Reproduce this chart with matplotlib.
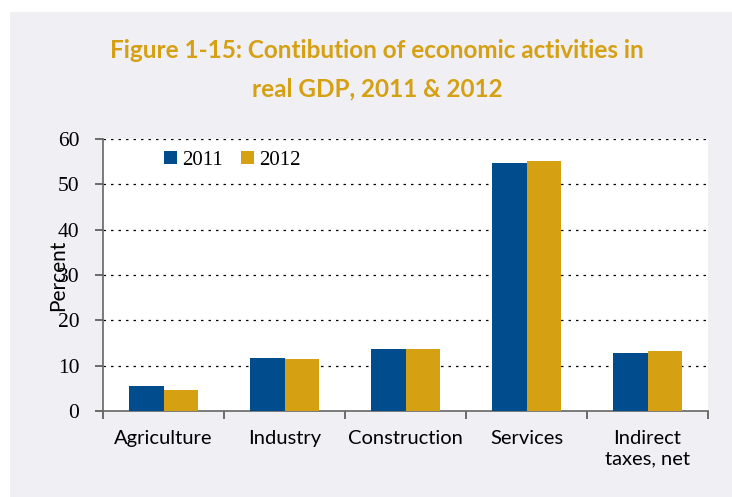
import numpy as np
import matplotlib.pyplot as plt
from matplotlib.patches import Rectangle

sectors = ["Agriculture", "Industry", "Construction", "Services", "Indirect\ntaxes, net"]
share_2011 = [5.6, 11.6, 13.6, 54.7, 12.8]
share_2012 = [4.6, 11.5, 13.7, 55.1, 13.3]
years = ["2011", "2012"]

blue = "#004c8c"
gold = "#d5a012"
panel = "#efeff4"

fig = plt.figure(figsize=(7.32, 4.97), dpi=100)
fig.patch.set_facecolor("white")
fig.patches.append(Rectangle((10 / 732, 0), 1, 1 - 12 / 497, transform=fig.transFigure,
                             facecolor=panel, edgecolor="none", zorder=-10))

fig.text(0.515, 0.898, "Figure 1-15: Contibution of economic activities in",
         ha="center", va="center", fontsize=17.5, fontweight="bold", color=gold, family="Lato")
fig.text(0.515, 0.822, "real GDP, 2011 & 2012",
         ha="center", va="center", fontsize=17.5, fontweight="bold", color=gold, family="Lato")

ax = fig.add_axes([103 / 732, 1 - 411 / 497, 605 / 732, 272 / 497])
ax.set_facecolor("white")

x = np.arange(len(sectors))
w = 0.285
ax.bar(x - w / 2, share_2011, w, color=blue, label=years[0], zorder=3)
ax.bar(x + w / 2, share_2012, w, color=gold, label=years[1], zorder=3)

ax.set_xlim(-0.5, len(sectors) - 0.5)
ax.set_ylim(0, 60)
ax.set_yticks(np.arange(0, 61, 10))
ax.set_yticklabels([str(v) for v in range(0, 61, 10)], family="Liberation Serif", fontsize=15.5)
for v in range(10, 61, 10):
    ax.axhline(v, color="black", lw=0.9, ls=(0, (2, 4)), zorder=1)

ax.set_xticks(x)
ax.set_xticklabels(sectors, family="Lato", fontsize=14.5)
ax.tick_params(axis="x", length=0, pad=14)
ax.set_xticks(np.arange(-0.5, len(sectors)), minor=True)
ax.tick_params(axis="x", which="minor", length=6, color="#555555", width=1.2)
ax.tick_params(axis="y", length=6, color="#555555", width=1.2, pad=11)

for side in ["top", "right"]:
    ax.spines[side].set_visible(False)
for side in ["left", "bottom"]:
    ax.spines[side].set_color("#666666")
    ax.spines[side].set_linewidth(1.2)

ax.set_ylabel("Percent", family="Lato", fontsize=15)
ax.yaxis.set_label_coords(-0.057, 0.5)

leg = ax.legend(loc="upper left", bbox_to_anchor=(0.07, 1.025), ncol=2, frameon=False,
                handlelength=0.6, handleheight=0.6, handletextpad=0.25, columnspacing=0.9,
                prop={"family": "Liberation Serif", "size": 15})

fig.savefig("out.png", dpi=100, facecolor=fig.get_facecolor())
